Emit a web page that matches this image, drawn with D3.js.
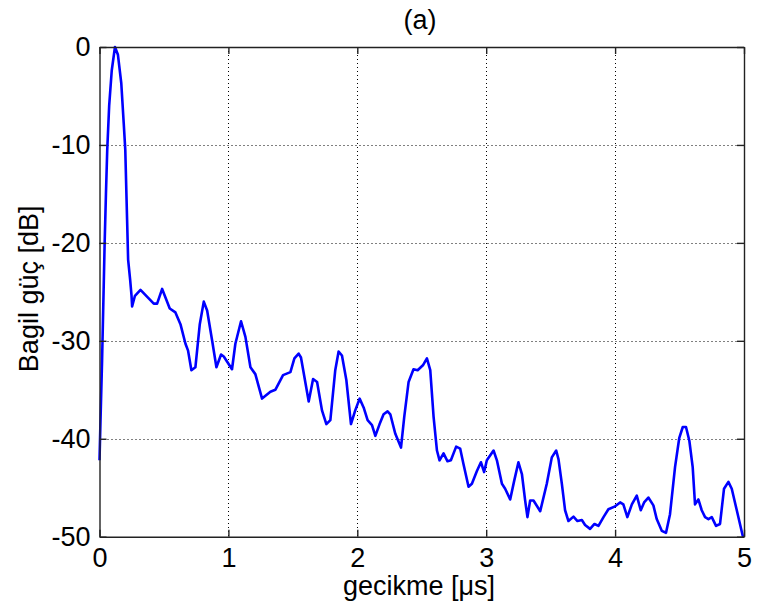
<!DOCTYPE html>
<html>
<head>
<meta charset="utf-8">
<script src="https://cdn.jsdelivr.net/npm/d3@7"></script>
<style>
  body { margin: 0; background: #fff; }
  text { font-family: "Liberation Sans", Arial, sans-serif; }
</style>
</head>
<body>
<div id="chart"></div>
<script>
// delay values [us]
const delay = [
  0, 0.008, 0.02, 0.03, 0.04, 0.05, 0.06, 0.075, 0.095, 0.12,
  0.143, 0.169, 0.188, 0.2, 0.208, 0.214, 0.222, 0.238, 0.248, 0.253,
  0.275, 0.318, 0.421, 0.447, 0.486, 0.545, 0.589, 0.628, 0.667, 0.687,
  0.713, 0.744, 0.778, 0.809, 0.835, 0.874, 0.907, 0.943, 0.964, 1.028,
  1.054, 1.098, 1.132, 1.171, 1.209, 1.261, 1.326, 1.364, 1.424, 1.481,
  1.512, 1.545, 1.563, 1.623, 1.657, 1.688, 1.726, 1.76, 1.791, 1.829,
  1.855, 1.881, 1.915, 1.951, 1.984, 2.018, 2.049, 2.08, 2.114, 2.14,
  2.173, 2.204, 2.235, 2.256, 2.295, 2.339, 2.364, 2.398, 2.436, 2.468,
  2.509, 2.54, 2.566, 2.592, 2.618, 2.638, 2.669, 2.7, 2.726, 2.767,
  2.798, 2.824, 2.863, 2.889, 2.928, 2.959, 2.984, 3.005, 3.057, 3.083,
  3.122, 3.147, 3.186, 3.217, 3.25, 3.277, 3.302, 3.32, 3.341, 3.367,
  3.419, 3.47, 3.509, 3.543, 3.561, 3.587, 3.612, 3.638, 3.677, 3.708,
  3.742, 3.767, 3.806, 3.84, 3.871, 3.91, 3.948, 4.0, 4.039, 4.064,
  4.095, 4.13, 4.168, 4.199, 4.225, 4.258, 4.297, 4.323, 4.362, 4.395,
  4.426, 4.465, 4.498, 4.525, 4.55, 4.576, 4.602, 4.62, 4.646, 4.672,
  4.698, 4.724, 4.75, 4.783, 4.814, 4.845, 4.879, 4.905, 4.944, 4.99,
  5.0
];

// relative power [dB]
const power = [
  -42.2, -38, -32, -26, -20, -15, -10.5, -6, -2.4, 0,
  -0.8, -3.7, -7.8, -10.5, -14.6, -17.6, -21.7, -23.8, -25.3, -26.5,
  -25.4, -24.8, -26.2, -26.2, -24.7, -26.7, -27.1, -28.3, -30.3, -31.0,
  -33.0, -32.7, -28.3, -26.0, -26.9, -30.0, -32.7, -31.4, -31.6, -32.9,
  -30.3, -28.0, -29.6, -32.7, -33.4, -35.9, -35.2, -35.0, -33.5, -33.2,
  -31.8, -31.3, -31.7, -36.2, -33.9, -34.2, -37.1, -38.5, -38.1, -33.0,
  -31.1, -31.5, -34.0, -38.5, -37.1, -35.9, -36.8, -38.1, -38.6, -39.7,
  -38.5, -37.5, -37.2, -37.5, -39.5, -40.9, -37.8, -34.2, -32.9, -33.0,
  -32.5, -31.8, -33.0, -37.8, -41.2, -42.2, -41.5, -42.3, -42.2, -40.8,
  -41.0, -42.6, -44.9, -44.6, -43.3, -42.4, -43.4, -42.2, -41.2, -42.2,
  -44.6, -45.1, -46.2, -44.3, -42.4, -43.6, -46.3, -48.0, -46.3, -46.3,
  -47.4, -44.6, -41.9, -41.2, -42.1, -44.6, -47.3, -48.4, -47.95, -48.4,
  -48.3, -48.8, -49.2, -48.7, -48.9, -48.0, -47.2, -46.9, -46.5, -46.7,
  -48.0, -46.7, -45.8, -47.3, -46.5, -46.0, -46.8, -48.2, -49.4, -49.6,
  -47.7, -42.9, -39.9, -38.8, -38.8, -40.2, -42.9, -46.7, -46.2, -47.3,
  -48.0, -48.2, -48.0, -48.9, -48.7, -45.1, -44.4, -45.1, -47.3, -49.9,
  -50
];

const xTicks = [0, 1, 2, 3, 4, 5];
const yTicks = [0, -10, -20, -30, -40, -50];

var W = 759
var H = 616
var pL = 99.5, pR = 744, pT = 47, pB = 536.7

var svg = d3.select("#chart")
  .append("svg")
  .attr("width", W)
  .attr("height", H)

svg.append("rect").attr("width", W).attr("height", H).attr("fill", "#fff")

var x = d3.scaleLinear().domain([0, 5]).range([pL, pR])
var y = d3.scaleLinear().domain([-50, 0]).range([pB, pT])

// dotted grid
var grid = svg.append("g")
  .attr("stroke", "#000")
  .attr("stroke-width", 1)
  .attr("stroke-dasharray", "1,3")

grid.selectAll(".vg").data(xTicks.slice(1, -1)).enter()
  .append("line")
  .attr("x1", d => Math.round(x(d)) + 0.5).attr("x2", d => Math.round(x(d)) + 0.5)
  .attr("y1", pT).attr("y2", pB)

grid.selectAll(".hg").data(yTicks.slice(1, -1)).enter()
  .append("line")
  .attr("y1", d => Math.round(y(d)) + 0.5).attr("y2", d => Math.round(y(d)) + 0.5)
  .attr("x1", pL).attr("x2", pR)

// the curve
var pts = delay.map((d, i) => [d, power[i]])
var line = d3.line()
  .x(d => x(d[0]))
  .y(d => y(d[1]))

svg.append("path")
  .datum(pts)
  .attr("d", line)
  .attr("fill", "none")
  .attr("stroke", "#0000ff")
  .attr("stroke-width", 2.6)
  .attr("stroke-linejoin", "round")

// axes, ticks pointing inward like matlab
var fmt = d3.format("d")
var xAxis = d3.axisBottom(x).tickValues(xTicks).tickFormat(fmt).tickSizeInner(-7).tickSizeOuter(0).tickPadding(11)
var yAxis = d3.axisLeft(y).tickValues(yTicks).tickFormat(d => d === 0 ? "0" : "-" + Math.abs(d)).tickSizeInner(-7).tickSizeOuter(0).tickPadding(9)
var xTop = d3.axisTop(x).tickValues(xTicks).tickFormat("").tickSizeInner(-7).tickSizeOuter(0)
var yRight = d3.axisRight(y).tickValues(yTicks).tickFormat("").tickSizeInner(-7).tickSizeOuter(0)

function styleAxis(g) {
  g.select(".domain").attr("stroke", "#222").attr("stroke-width", 1.4)
  g.selectAll(".tick line").attr("stroke", "#222").attr("stroke-width", 1.4)
  g.selectAll(".tick text")
    .attr("fill", "#000")
    .style("font-size", "27px")
    .style("font-family", "'Liberation Sans', Arial, sans-serif")
}

svg.append("g").attr("transform", "translate(0," + pB + ")").call(xAxis).call(styleAxis)
svg.append("g").attr("transform", "translate(" + pL + ",0)").call(yAxis).call(styleAxis)
svg.append("g").attr("transform", "translate(0," + pT + ")").call(xTop).call(styleAxis)
svg.append("g").attr("transform", "translate(" + pR + ",0)").call(yRight).call(styleAxis)

// title and labels
svg.append("text")
  .attr("x", 420)
  .attr("y", 29)
  .attr("text-anchor", "middle")
  .style("font-size", "27px")
  .text("(a)")

svg.append("text")
  .attr("x", 419)
  .attr("y", 595)
  .attr("text-anchor", "middle")
  .style("font-size", "27px")
  .text("gecikme [μs]")

svg.append("text")
  .attr("transform", "translate(38," + ((pT + pB) / 2 - 3) + ") rotate(-90)")
  .attr("text-anchor", "middle")
  .style("font-size", "27px")
  .text("Bagil güç [dB]")
</script>
</body>
</html>
